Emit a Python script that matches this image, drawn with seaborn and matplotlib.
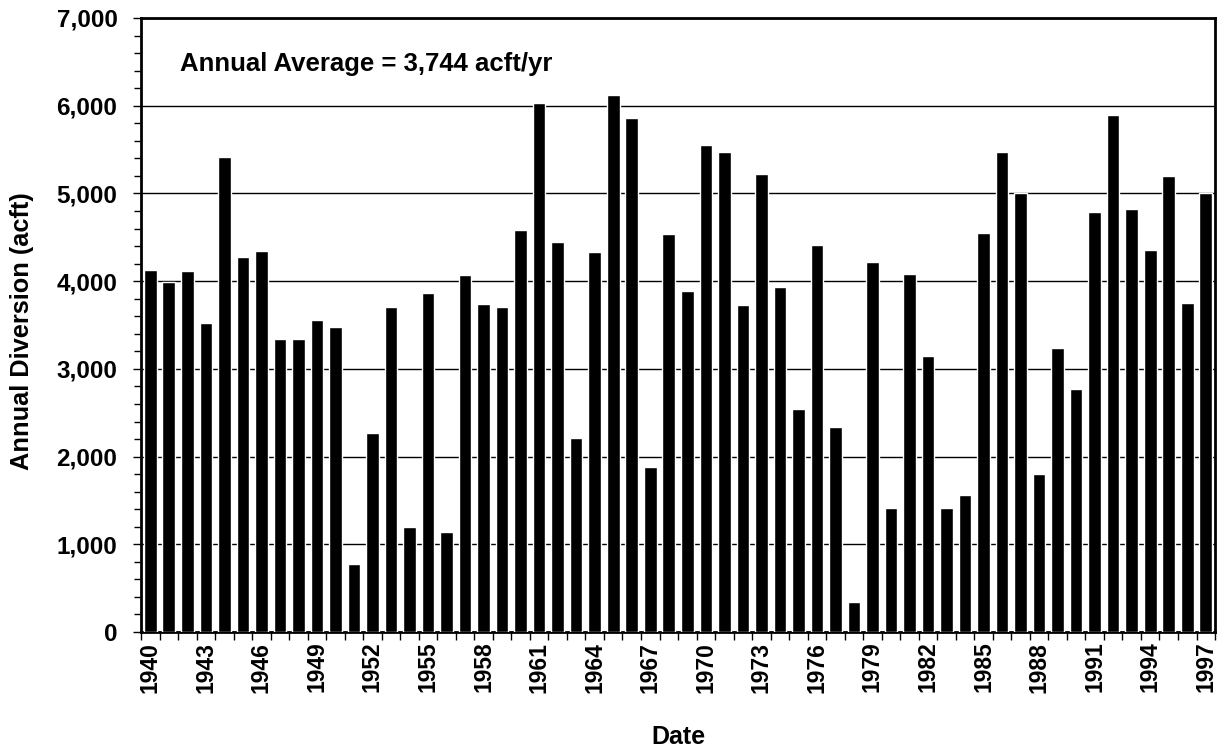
import numpy as np
import pandas as pd
import matplotlib
matplotlib.use("Agg")
import matplotlib.pyplot as plt
from matplotlib.ticker import MultipleLocator, FuncFormatter, FixedLocator
import seaborn as sns

years = list(range(1940, 1998))
diversion = [
    4130, 3990, 4120, 3520, 5415, 4275, 4340, 3335, 3335, 3555,
    3477, 774, 2268, 3706, 1200, 3866, 1140, 4068, 3743, 3710,
    4585, 6033, 4448, 2217, 4338, 6125, 5859, 1887, 4540, 3889,
    5552, 5470, 3729, 5218, 3935, 2547, 4416, 2332, 339, 4224,
    1415, 4086, 3147, 1415, 1562, 4553, 5470, 5000, 1796, 3239,
    2767, 4792, 5891, 4828, 4356, 5204, 3752, 5000,
]
average_text = "Annual Average = 3,744 acft/yr"

df = pd.DataFrame({"Year": [str(y) for y in years], "Diversion": diversion})

sns.set_theme(style="white")
plt.rcParams["font.family"] = ["Liberation Sans", "DejaVu Sans"]
plt.rcParams["font.weight"] = "bold"
plt.rcParams["text.color"] = "black"
plt.rcParams["axes.labelcolor"] = "black"
plt.rcParams["xtick.color"] = "black"
plt.rcParams["ytick.color"] = "black"

fig = plt.figure(figsize=(12.22, 7.5), dpi=100)
ax = fig.add_axes([0.1154, 0.1573, 0.8789, 0.8187])

sns.barplot(data=df, x="Year", y="Diversion", order=df["Year"], color="black",
            saturation=1, width=0.68, ax=ax, zorder=3)

ax.set_xlim(-0.5, len(years) - 0.5)
ax.set_ylim(0, 7000)

# y axis: labelled every 1000, minor marks every 200
ax.yaxis.set_major_locator(MultipleLocator(1000))
ax.yaxis.set_minor_locator(MultipleLocator(200))
ax.yaxis.set_major_formatter(FuncFormatter(lambda v, p: f"{int(v):,}"))
ax.grid(axis="y", which="major", color="black", linewidth=1.0, zorder=0)
ax.grid(axis="x", visible=False)

# x axis: labels every third year, marks at category boundaries
label_pos = list(range(0, len(years), 3))
ax.set_xticks(label_pos)
ax.set_xticklabels([str(years[i]) for i in label_pos], rotation=90,
                   fontsize=16.5, fontweight="bold", color="black")
ax.xaxis.set_minor_locator(FixedLocator(np.arange(-0.5, len(years), 1)))

ax.tick_params(axis="x", which="major", length=0, pad=7, labelcolor="black")
ax.tick_params(axis="x", which="minor", bottom=True, length=6, width=1,
               direction="out", color="black")
ax.tick_params(axis="y", which="major", left=True, length=6, width=1,
               direction="out", color="black", labelcolor="black",
               labelsize=17.5, pad=11)
ax.tick_params(axis="y", which="minor", left=True, length=5, width=1,
               direction="out", color="black")
for lab in ax.get_yticklabels():
    lab.set_fontweight("bold")

for side in ["left", "bottom", "top", "right"]:
    ax.spines[side].set_visible(True)
    ax.spines[side].set_color("black")
    ax.spines[side].set_linewidth(2.0)

ax.set_xlabel("Date", fontsize=18, fontweight="bold", color="black")
ax.set_ylabel("Annual Diversion (acft)", fontsize=18.3, fontweight="bold",
              color="black")
ax.xaxis.set_label_coords(0.5, -0.151)
ax.yaxis.set_label_coords(-0.0996, 0.49)

ax.text(0.036, 0.925, average_text, transform=ax.transAxes, fontsize=18.5,
        fontweight="bold", color="black", ha="left", va="center")

fig.savefig("out.png", dpi=100, facecolor="white")
